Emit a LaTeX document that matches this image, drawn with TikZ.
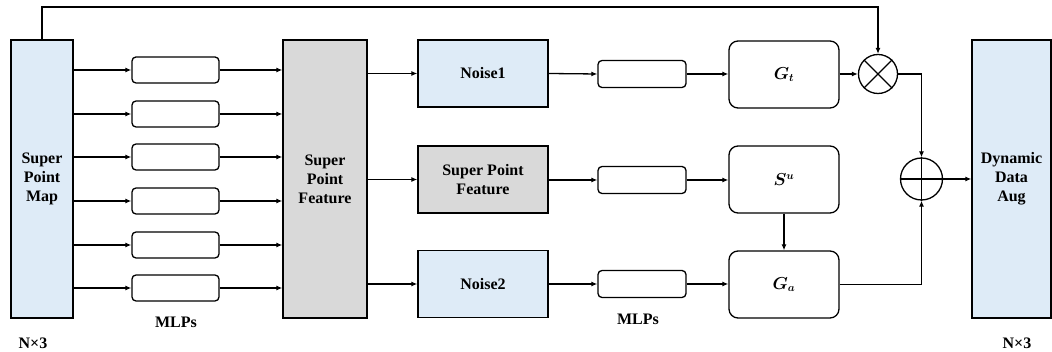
\documentclass[tikz,border=0pt]{standalone}
\usepackage{amsmath,bm}
\usepackage{fontspec}
\setmainfont{Liberation Serif}[BoldFont={Liberation Serif Bold}]
\newfontfamily\tnr{Liberation Serif}[BoldFont={Liberation Serif Bold}]
\usetikzlibrary{arrows.meta}

\definecolor{lblue}{RGB}{222,235,247}
\definecolor{lgray}{RGB}{217,217,217}

\begin{document}
\begin{tikzpicture}[x=1pt,y=-1pt,
  font=\tnr\bfseries\fontsize{16}{19}\selectfont,
  box/.style={draw, line width=1.3pt, align=center, inner sep=0pt},
  tall/.style={box, minimum width=62pt, minimum height=278pt},
  mlp/.style={box, rounded corners=4pt, minimum width=87pt, minimum height=26pt},
  mid/.style={box, minimum width=130pt, minimum height=67pt},
  gbox/.style={box, rounded corners=9pt, minimum width=110pt, minimum height=67pt},
  opc/.style={draw, circle, line width=1.3pt, minimum size=#1, inner sep=0pt},
  arr/.style={-{Latex[length=6pt,width=5pt]}, line width=1.3pt},
  ln/.style={line width=1.3pt}
]
\useasboundingbox (0,0) rectangle (1052,352);

% input and backbone columns
\node[tall, fill=lblue] (map) at (42,179) {Super\\Point\\Map};
\node[tall, fill=lgray, minimum width=84pt] (feat) at (325,179) {Super\\Point\\Feature};
\node[tall, fill=lblue, minimum width=79pt] (dyn) at (1011.5,179) {Dynamic\\Data\\Aug};

% shared MLP stack
\foreach \i/\y in {1/70,2/114,3/157,4/201,5/245,6/288}{
  \node[mlp] (l\i) at (175.5,\y) {};
  \draw[arr] (map.east |- l\i.west) -- (l\i.west);
  \draw[arr] (l\i.east) -- (l\i.east -| feat.west);
}

% three branches
\node[mid, fill=lblue] (n1) at (483,73.5) {Noise1};
\node[mid, fill=lgray] (spf) at (483,179.5) {Super Point\\Feature};
\node[mid, fill=lblue] (n2) at (483,284) {Noise2};

\node[mlp, minimum width=88pt, minimum height=27pt] (r1) at (642,74) {};
\node[mlp, minimum width=88pt, minimum height=27pt] (r2) at (642,180) {};
\node[mlp, minimum width=88pt, minimum height=27pt] (r3) at (642,284) {};

\node[gbox] (gt) at (784,74.5) {$\bm{G_t}$};
\node[gbox] (su) at (784,179.5) {$\bm{S^u}$};
\node[gbox] (ga) at (784,284.5) {$\bm{G_a}$};

% operators
\node[opc=39pt] (mul) at (878,74) {};
\draw[ln] (mul.north east) -- (mul.south west) (mul.north west) -- (mul.south east);
\node[opc=42pt] (add) at (921.5,179) {};
\draw[ln] (add.north) -- (add.south) (add.west) -- (add.east);

% connectors
\draw[arr] (feat.east |- n1.west) -- (n1.west);
\draw[arr] (feat.east |- spf.west) -- (spf.west);
\draw[arr] (feat.east |- n2.west) -- (n2.west);
\draw[arr] (n1.east) -- (r1.west);
\draw[arr] (spf.east |- r2.west) -- (r2.west);
\draw[arr] (n2.east) -- (r3.west);
\draw[arr] (r1.east) -- (gt.west |- r1.east);
\draw[arr] (r2.east) -- (su.west |- r2.east);
\draw[arr] (r3.east) -- (ga.west |- r3.east);
\draw[arr] (su.south) -- (ga.north);
\draw[arr] (gt.east |- mul.west) -- (mul.west);
\draw[arr] (mul.east) -| (add.north);
\draw[arr] (ga.east) -| (add.south);
\draw[arr] (add.east) -- (add.east -| dyn.west);

\coordinate (fb) at (42,7);
\draw[arr] (map.north) -- (fb) -| (mul.north);

% labels
\node at (176,322) {MLPs};
\node at (638,319) {MLPs};
\node at (33,343) {N×3};
\node at (1017,343) {N×3};
\end{tikzpicture}
\end{document}
